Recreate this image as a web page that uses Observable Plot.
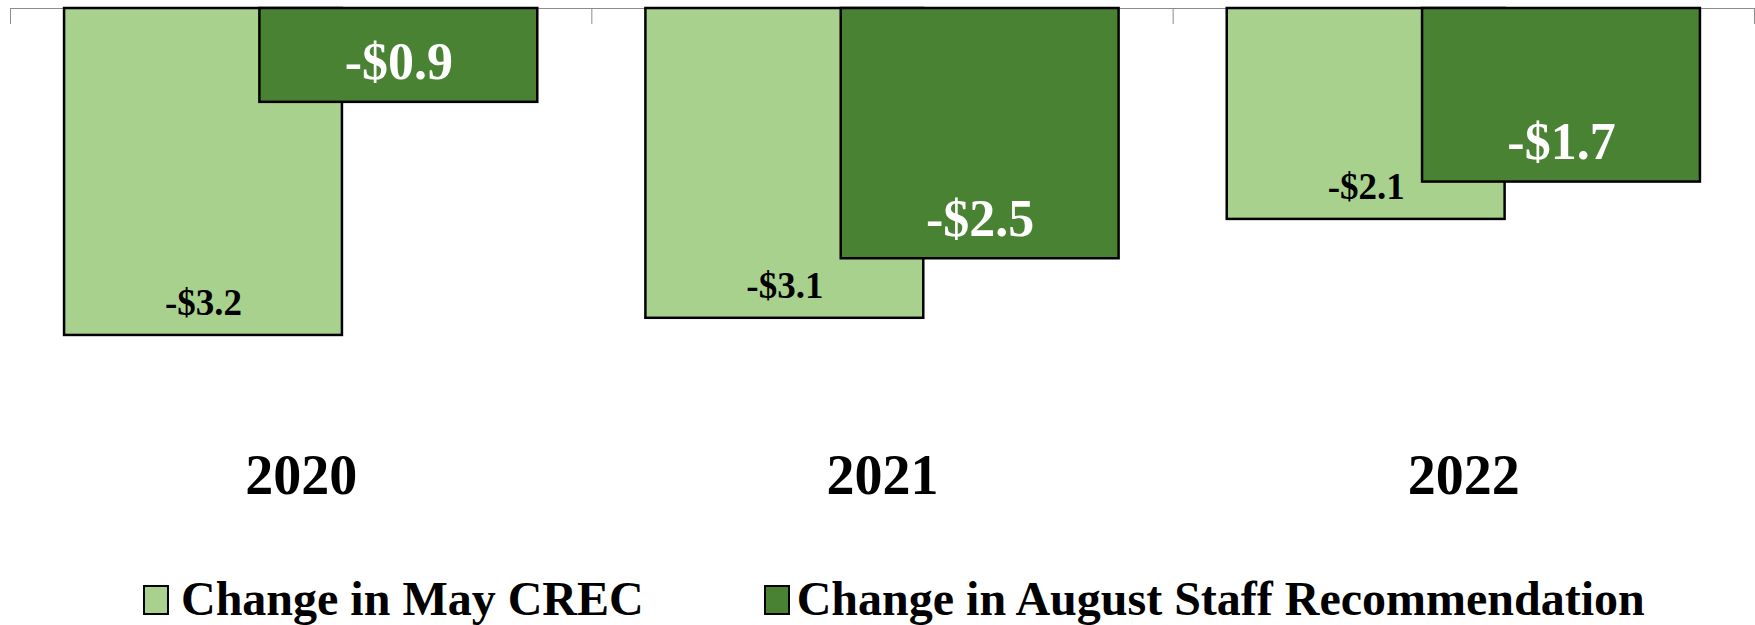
<!DOCTYPE html>
<html><head><meta charset="utf-8">
<script src="https://cdn.jsdelivr.net/npm/d3@7"></script>
<script src="https://cdn.jsdelivr.net/npm/@observablehq/plot@0.6"></script>
<style>
body{margin:0;background:#fff;font-family:"Liberation Serif","Times New Roman",serif;font-weight:bold;}
#chart svg{display:block;}
#legend{height:105px;display:flex;align-items:flex-end;font-size:48px;line-height:53px;white-space:nowrap;}
.item{display:inline-block;}
.sw{display:inline-block;vertical-align:baseline;width:26px;height:30px;border:2px solid #000;box-sizing:border-box;}
</style></head><body>
<div id="chart"></div>
<div id="legend"></div>
<script>
const years = ["2020", "2021", "2022"];
const seriesNames = ["Change in May CREC", "Change in August Staff Recommendation"];
const mayCrec = [-3.24, -3.07, -2.09];
const augustStaff = [-0.93, -2.48, -1.72];
const seriesColors = ["#A9D18E", "#4A8233"];

// layout: bar extents within each year slot (fraction of slot)
const slot = {
  [seriesNames[0]]: [0.093, 0.571],
  [seriesNames[1]]: [0.429, 0.907]
};

const data = [];
years.forEach((yr, i) => {
  data.push({i, year: yr, series: seriesNames[0], value: mayCrec[i]});
});
years.forEach((yr, i) => {
  data.push({i, year: yr, series: seriesNames[1], value: augustStaff[i]});
});
const x1 = d => d.i + slot[d.series][0];
const x2 = d => d.i + slot[d.series][1];
const xc = d => (x1(d) + x2(d)) / 2;
const fmt = v => (v < 0 ? "-" : "") + "$" + Math.abs(v).toFixed(1);

const light = data.filter(d => d.series === seriesNames[0]);
const dark = data.filter(d => d.series === seriesNames[1]);

const chart = Plot.plot({
  width: 1755,
  height: 520,
  marginTop: 8,
  marginBottom: 68,
  marginLeft: 10,
  marginRight: 1,
  style: {fontFamily: "'Liberation Serif', 'Times New Roman', serif", fontWeight: "bold", background: "#fff"},
  x: {type: "linear", domain: [0, years.length], axis: null},
  y: {domain: [-4.4, 0], axis: null},
  color: {domain: seriesNames, range: seriesColors},
  marks: [
    Plot.ruleY([0], {stroke: "#8c8c8c", strokeWidth: 1}),
    Plot.ruleX(d3.range(years.length + 1), {y1: 0, y2: 0, insetBottom: -16, stroke: "#8c8c8c", strokeWidth: 1}),
    Plot.rect(light, {x1, x2, y1: 0, y2: "value", fill: "series", stroke: "#000", strokeWidth: 2.5}),
    Plot.rect(dark, {x1, x2, y1: 0, y2: "value", fill: "series", stroke: "#000", strokeWidth: 2.5}),
    Plot.text(light, {x: xc, y: "value", text: d => fmt(d.value), lineAnchor: "bottom", dy: -20, fill: "#000", fontSize: 37, fontWeight: "bold"}),
    Plot.text(dark, {x: xc, y: "value", text: d => fmt(d.value), lineAnchor: "bottom", dy: -23, fill: "#fff", fontSize: 52, fontWeight: "bold"}),
    Plot.axisX({anchor: "bottom", ticks: years.map((_, i) => i + 0.5), tickFormat: v => years[Math.floor(v)], tickSize: 0, tickPadding: 2, fontSize: 56, fontWeight: "bold", fill: "#000"})
  ]
});
document.getElementById("chart").appendChild(chart);

const legend = document.getElementById("legend");
seriesNames.forEach((name, k) => {
  const item = document.createElement("span");
  item.className = "item";
  item.style.marginLeft = k === 0 ? "143px" : "120px";
  const sw = document.createElement("span");
  sw.className = "sw";
  sw.style.background = seriesColors[k];
  sw.style.marginRight = k === 0 ? "12px" : "7px";
  item.appendChild(sw);
  item.appendChild(document.createTextNode(name));
  legend.appendChild(item);
});
</script>
</body></html>
